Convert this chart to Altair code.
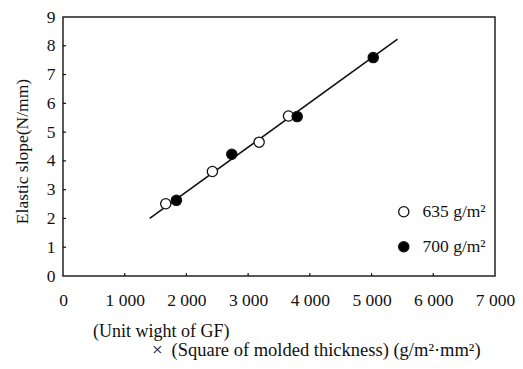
import altair as alt
import pandas as pd

# ---- data ----
open_x = [1665, 2421, 3178, 3654]
open_y = [2.51, 3.63, 4.65, 5.56]
filled_x = [1838, 2735, 3795, 5027]
filled_y = [2.63, 4.23, 5.54, 7.59]
fit_x = [1405, 5421]
fit_y = [2.0, 8.23]
series_names = ["635 g/m²", "700 g/m²"]
x_ticks = [0, 1000, 2000, 3000, 4000, 5000, 6000, 7000]
y_ticks = [0, 1, 2, 3, 4, 5, 6, 7, 8, 9]
x_title_1 = "(Unit wight of GF)"
x_title_2a = "×"
x_title_2b = "(Square of molded thickness) (g/m²·mm²)"
y_title = "Elastic slope(N/mm)"

FONT = "Liberation Serif"
FS = 17.5
INK = "#111111"

pts = pd.DataFrame({
    "x": open_x + filled_x,
    "y": open_y + filled_y,
    "series": [series_names[0]] * len(open_x) + [series_names[1]] * len(filled_x),
})
fit = pd.DataFrame({"x": fit_x, "y": fit_y})
xt = pd.DataFrame({"v": x_ticks[1:-1]})
yt = pd.DataFrame({"v": y_ticks[1:-1]})

xs = alt.Scale(domain=[0, 7000], nice=False, zero=False)
ys = alt.Scale(domain=[0, 9], nice=False, zero=False)

xaxis = alt.Axis(values=x_ticks, title=None, ticks=False, tickSize=0, domain=False, grid=False,
                 labelPadding=15, labelOverlap=False,
                 labelExpr="replace(format(datum.value, ','), ',', ' ')", labelFlush=False)
yaxis = alt.Axis(values=y_ticks, title=y_title, ticks=False, tickSize=0, domain=False, grid=False,
                 labelPadding=8, labelOverlap=False, labelFlush=False,
                 titleAngle=270, titleX=-41, titleY=134, titleAlign="center",
                 titleBaseline="middle")

line = alt.Chart(fit).mark_line(color=INK, strokeWidth=1.6).encode(
    x=alt.X("x:Q", scale=xs, axis=xaxis, title=None),
    y=alt.Y("y:Q", scale=ys, axis=yaxis, title=y_title),
)

points = alt.Chart(pts).mark_point(filled=True, stroke=INK, strokeWidth=1.3, size=105, opacity=1).encode(
    x=alt.X("x:Q", scale=xs, axis=xaxis, title=None),
    y=alt.Y("y:Q", scale=ys, axis=yaxis, title=y_title),
    color=alt.Color("series:N",
                    scale=alt.Scale(domain=series_names, range=["white", "black"]),
                    legend=alt.Legend(title=None, orient="none", legendX=332, legendY=186,
                                      symbolType="circle", symbolSize=105,
                                      symbolStrokeColor=INK, symbolStrokeWidth=1.3,
                                      labelOffset=10, rowPadding=16)),
)

xtick_rules = alt.Chart(xt).mark_rule(color=INK, strokeWidth=1.2).encode(
    x=alt.X("v:Q", scale=xs, axis=xaxis, title=None),
    y=alt.Y(datum=0, scale=ys, axis=yaxis, title=y_title),
    y2=alt.datum(0.1),
)
ytick_rules = alt.Chart(yt).mark_rule(color=INK, strokeWidth=1.2).encode(
    y=alt.Y("v:Q", scale=ys, axis=yaxis, title=y_title),
    x=alt.X(datum=0, scale=xs, axis=xaxis, title=None),
    x2=alt.datum(50),
)

t1 = alt.Chart(pd.DataFrame({"t": [x_title_1]})).mark_text(
    font=FONT, fontSize=18, color=INK, align="left", baseline="middle"
).encode(text="t:N", x=alt.value(30), y=alt.value(314.5))
t2a = alt.Chart(pd.DataFrame({"t": [x_title_2a]})).mark_text(
    font=FONT, fontSize=19, color=INK, align="left", baseline="middle"
).encode(text="t:N", x=alt.value(89), y=alt.value(333))
t2b = alt.Chart(pd.DataFrame({"t": [x_title_2b]})).mark_text(
    font=FONT, fontSize=18.5, color=INK, align="left", baseline="middle"
).encode(text="t:N", x=alt.value(108.5), y=alt.value(333))

chart = alt.layer(line, xtick_rules, ytick_rules, points, t1, t2a, t2b).properties(
    width=432, height=259,
    autosize=alt.AutoSizeParams(type="none"),
    padding={"left": 55, "top": 9, "right": 20, "bottom": 85},
).configure(background="white", font=FONT).configure_view(
    stroke="#222222", strokeWidth=1.5
).configure_axis(
    labelFont=FONT, labelFontSize=FS, labelColor=INK,
    titleFont=FONT, titleFontSize=FS, titleFontWeight="normal", titleColor=INK,
).configure_legend(
    labelFont=FONT, labelFontSize=FS, labelColor=INK, labelLimit=200,
)

chart.save("out.html", embed_options={"renderer": "svg", "actions": False})
